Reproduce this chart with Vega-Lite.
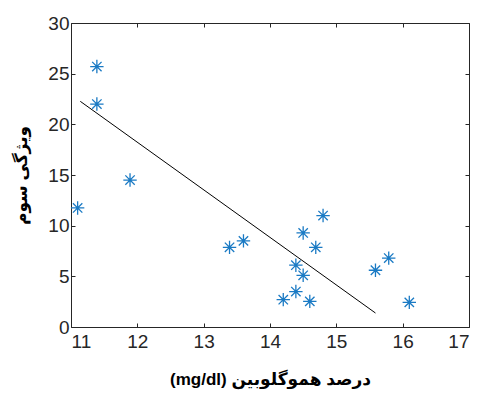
{
  "$schema": "https://vega.github.io/schema/vega-lite/v6.json",
  "width": 398,
  "height": 304,
  "autosize": {"type": "none"},
  "padding": {"left": 71, "top": 23, "right": 17, "bottom": 66},
  "background": "white",
  "config": {
    "view": {"stroke": null},
    "axis": {
      "grid": false,
      "domainColor": "#262626",
      "tickColor": "#262626",
      "labelColor": "#262626",
      "labelFont": "Liberation Sans",
      "labelFontSize": 19,
      "tickSize": -4,
      "titleFont": "Liberation Sans, DejaVu Sans",
      "titleFontWeight": "bold",
      "titleColor": "#000000"
    }
  },
  "datasets": {
    "pts": [
      {"hb": 11.1, "f3": 11.75},
      {"hb": 11.39, "f3": 25.7},
      {"hb": 11.39, "f3": 22.0},
      {"hb": 11.89, "f3": 14.5},
      {"hb": 13.39, "f3": 7.86},
      {"hb": 13.6, "f3": 8.5},
      {"hb": 14.2, "f3": 2.7},
      {"hb": 14.39, "f3": 3.5},
      {"hb": 14.39, "f3": 6.1},
      {"hb": 14.5, "f3": 5.1},
      {"hb": 14.5, "f3": 9.28},
      {"hb": 14.6, "f3": 2.53},
      {"hb": 14.69, "f3": 7.86},
      {"hb": 14.8, "f3": 11.0},
      {"hb": 15.59, "f3": 5.6},
      {"hb": 15.79, "f3": 6.8},
      {"hb": 16.1, "f3": 2.43}
    ],
    "fit": [
      {"hb": 11.14, "f3": 22.27},
      {"hb": 15.59, "f3": 1.38}
    ]
  },
  "layer": [
    {
      "data": {"name": "fit"},
      "mark": {"type": "line", "color": "#000000", "strokeWidth": 1},
      "encoding": {
        "x": {"field": "hb", "type": "quantitative", "scale": {"domain": [11, 17], "nice": false, "zero": false},
          "axis": {"orient": "top", "labels": false, "title": null, "values": [11,12,13,14,15,16,17]}},
        "y": {"field": "f3", "type": "quantitative", "scale": {"domain": [0, 30], "nice": false},
          "axis": {"orient": "right", "labels": false, "title": null, "values": [0,5,10,15,20,25,30]}}
      }
    },
    {
      "data": {"name": "pts"},
      "mark": {"type": "point", "shape": "M-1,0L1,0M0,-1L0,1M-0.7,-0.7L0.7,0.7M-0.7,0.7L0.7,-0.7", "filled": false, "size": 180, "color": "#1a7ac4", "strokeWidth": 1.3, "opacity": 1},
      "encoding": {
        "x": {"field": "hb", "type": "quantitative",
          "axis": {"orient": "bottom", "values": [11,12,13,14,15,16,17], "labelPadding": 9, "title": "(mg/dl) درصد هموگلوبین", "titleFontSize": 17, "titlePadding": 20}},
        "y": {"field": "f3", "type": "quantitative",
          "axis": {"orient": "left", "values": [0,5,10,15,20,25,30], "labelPadding": 6, "title": "ویژگی سوم", "titleFontSize": 17, "titlePadding": 17}}
      }
    }
  ],
  "resolve": {"axis": {"x": "independent", "y": "independent"}}
}
